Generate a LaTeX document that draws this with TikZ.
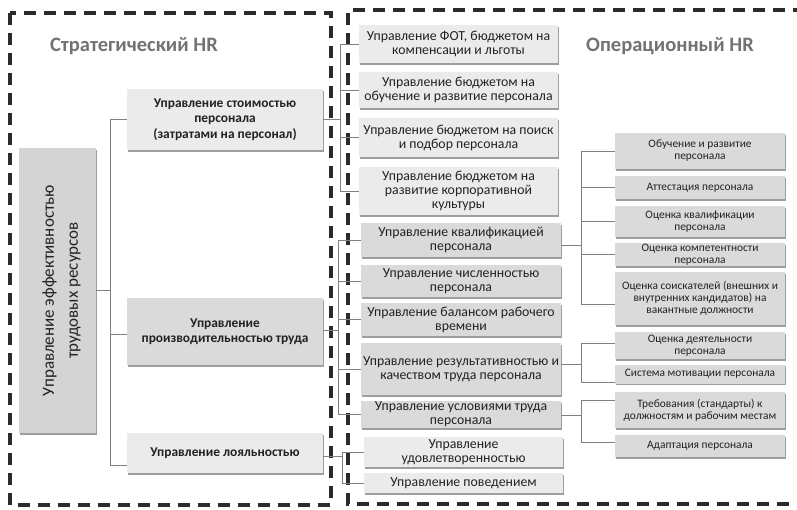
\documentclass[tikz,border=0pt]{standalone}
\usepackage{fontspec}
\setmainfont{Carlito}
\usetikzlibrary{shadows}
\definecolor{boxlight}{HTML}{EBEBEB}
\definecolor{boxmid}{HTML}{DADADA}
\definecolor{boxdark}{HTML}{D4D4D4}
\definecolor{txt}{HTML}{222222}
\definecolor{ttl}{HTML}{737373}
\definecolor{dashc}{HTML}{2B2B2B}
\tikzset{
  box/.style={rectangle, inner sep=1pt, align=center, text=txt,
    general shadow={fill=black!38, shadow xshift=0.6pt, shadow yshift=-1.8pt}},
  lbox/.style={box, fill=boxlight},
  mbox/.style={box, fill=boxmid},
  midtxt/.style={font=\fontsize{13.8}{14}\selectfont},
  rtxt/.style={font=\fontsize{11.4}{12}\selectfont},
  lvtxt/.style={font=\bfseries\fontsize{13.4}{15.5}\selectfont},
  conn/.style={draw=black!50, line width=0.8pt},
  frame/.style={draw=dashc, line width=3.5pt, dash pattern=on 12pt off 8pt},
  title/.style={text=ttl, font=\bfseries\fontsize{20.5}{22}\selectfont}
}
\begin{document}
\begin{tikzpicture}[x=1pt,y=-1pt]
\useasboundingbox[fill=white] (0,0) rectangle (797,510);
% frames
\draw[frame] (10,13) rectangle (331,505);
\draw[frame] (805,10) -- (348,10) -- (348,504) -- (805,504);
% titles
\node[title] (t1) at (134,46) {Стратегический HR};
\node[title] (t2) at (670,46) {Операционный HR};
% main
\node[box, fill=boxdark, minimum width=77pt, minimum height=285pt] (main) at (57.5,290.5) {};
\node[rotate=90, align=center, text=txt, font=\fontsize{17}{24}\selectfont] (maintxt) at ([xshift=4pt]main.center) {Управление эффективностью\\трудовых ресурсов};
% level 2
\node[lbox, lvtxt, minimum width=196pt, minimum height=61pt] (s1) at (225,119.5) {Управление стоимостью\\персонала\\(затратами на персонал)};
\node[mbox, lvtxt, minimum width=196pt, minimum height=67pt] (s2) at (225,331.5) {Управление\\производительностью труда};
\node[lbox, lvtxt, minimum width=196pt, minimum height=40pt] (s3) at (225,453) {Управление лояльностью};
% middle column
\node[lbox, midtxt, minimum width=199pt, minimum height=38pt] (m1) at (458.5,44) {Управление ФОТ, бюджетом на\\компенсации и льготы};
\node[lbox, midtxt, minimum width=199pt, minimum height=36pt] (m2) at (458.5,90) {Управление бюджетом на\\обучение и развитие персонала};
\node[lbox, midtxt, minimum width=199pt, minimum height=39pt] (m3) at (458.5,137.5) {Управление бюджетом на поиск\\и подбор персонала};
\node[lbox, midtxt, minimum width=199pt, minimum height=48pt] (m4) at (458.5,191) {Управление бюджетом на\\развитие корпоративной\\культуры};
\node[mbox, midtxt, minimum width=200pt, minimum height=34pt] (m5) at (461,240) {Управление квалификацией\\персонала};
\node[mbox, midtxt, minimum width=200pt, minimum height=32pt] (m6) at (461,281) {Управление численностью\\персонала};
\node[mbox, midtxt, minimum width=200pt, minimum height=33pt] (m7) at (461,319.5) {Управление балансом рабочего\\времени};
\node[mbox, midtxt, minimum width=200pt, minimum height=52pt] (m8) at (461,369) {Управление результативностью и\\качеством труда персонала};
\node[mbox, midtxt, minimum width=200pt, minimum height=27pt] (m9) at (461,414.5) {Управление условиями труда\\персонала};
\node[lbox, midtxt, minimum width=199pt, minimum height=30pt] (m10) at (463.5,452) {Управление\\удовлетворенностью};
\node[lbox, midtxt, minimum width=199pt, minimum height=20pt] (m11) at (463.5,483) {Управление поведением};
% right column
\node[mbox, rtxt, minimum width=170pt, minimum height=36pt] (r1) at (700,151) {Обучение и развитие\\персонала};
\node[mbox, rtxt, minimum width=170pt, minimum height=23pt] (r2) at (700,187.5) {Аттестация персонала};
\node[mbox, rtxt, minimum width=170pt, minimum height=31pt] (r3) at (700,221.5) {Оценка квалификации\\персонала};
\node[mbox, rtxt, minimum width=170pt, minimum height=23pt] (r4) at (700,254.5) {Оценка компетентности\\персонала};
\node[mbox, rtxt, minimum width=170pt, minimum height=53pt] (r5) at (700,298.5) {Оценка соискателей (внешних и\\внутренних кандидатов) на\\вакантные должности};
\node[mbox, rtxt, minimum width=170pt, minimum height=27pt] (r6) at (700,345.5) {Оценка деятельности\\персонала};
\node[mbox, rtxt, minimum width=170pt, minimum height=19pt] (r7) at (700,374) {Система мотивации персонала};
\node[mbox, rtxt, minimum width=170pt, minimum height=36pt] (r8) at (700,410) {Требования (стандарты) к\\должностям и рабочим местам};
\node[mbox, rtxt, minimum width=170pt, minimum height=22pt] (r9) at (700,446) {Адаптация персонала};
% connectors: main -> level 2
\draw[conn] (main.east) -- ++(14,0) |- (s1.west);
\draw[conn] (main.east) -- ++(14,0) |- ([yshift=-3pt]s2.west);
\draw[conn] (main.east) -- ++(14,0) |- ([yshift=-12pt]s3.west);
% cost group
\foreach \m in {m1,m2,m3,m4}{\draw[conn] (s1.east) -- ++(17,0) |- (\m.west);}
% productivity group
\foreach \m in {m5,m6,m7,m8,m9}{\draw[conn] ([yshift=1pt]s2.east) -- ++(15,0) |- (\m.west);}
% loyalty group
\foreach \m in {m10,m11}{\draw[conn] ([yshift=-3pt]s3.east) -- ++(19,0) |- (\m.west);}
% qualification group
\foreach \r in {r1,r2,r3,r4}{\draw[conn] ([yshift=-5pt]m5.east) -- ++(20,0) |- (\r.west);}
\draw[conn] ([yshift=-5pt]m5.east) -- ++(20,0) |- ([yshift=-6pt]r5.west);
% results group
\draw[conn] ([yshift=5pt]m8.east) -- ++(20,0) |- ([yshift=2pt]r6.west);
\draw[conn] ([yshift=5pt]m8.east) -- ++(20,0) |- ([yshift=-8pt]r7.west);
% conditions group
\draw[conn] ([yshift=-1pt]m9.east) -- ++(20,0) |- ([yshift=10pt]r8.west);
\draw[conn] ([yshift=-1pt]m9.east) -- ++(20,0) |- ([yshift=4pt]r9.west);
\end{tikzpicture}
\end{document}
